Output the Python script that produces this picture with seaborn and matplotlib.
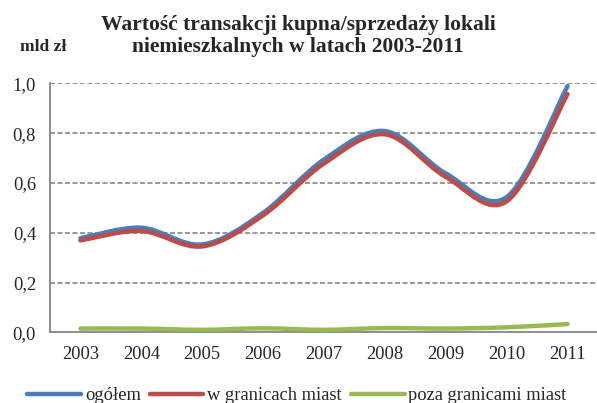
import numpy as np
import seaborn as sns
import matplotlib
matplotlib.use('Agg')
import matplotlib.pyplot as plt
from matplotlib.path import Path
from matplotlib.patches import PathPatch
from matplotlib.lines import Line2D

YEARS = ["2003", "2004", "2005", "2006", "2007", "2008", "2009", "2010", "2011"]
OGOLEM = [0.378, 0.420, 0.353, 0.480, 0.694, 0.808, 0.638, 0.543, 0.989]
W_GRANICACH = [0.369, 0.407, 0.345, 0.470, 0.678, 0.795, 0.624, 0.526, 0.957]
POZA_GRANICAMI = [0.015, 0.015, 0.010, 0.016, 0.010, 0.017, 0.015, 0.020, 0.033]
SERIES_NAMES = ["ogółem", "w granicach miast", "poza granicami miast"]
Y_TICKS = [0.0, 0.2, 0.4, 0.6, 0.8, 1.0]

COLORS = ["#4A7EBB", "#BE4B48", "#98B954"]
AXIS_GREY = "#868686"

sns.set_style("white")
plt.rcParams['font.family'] = ['Liberation Serif', 'DejaVu Serif']


def smooth_path(xs, ys):
    # Excel-style smoothed line: cubic bezier with catmull-rom control points
    pts = np.column_stack([xs, ys]).astype(float)
    n = len(pts)
    verts = [pts[0]]
    codes = [Path.MOVETO]
    for i in range(n - 1):
        p0 = pts[i - 1] if i > 0 else pts[i]
        p1 = pts[i]
        p2 = pts[i + 1]
        p3 = pts[i + 2] if i + 2 < n else pts[i + 1]
        c1 = p1 + (p2 - p0) / 6.0
        c2 = p2 - (p3 - p1) / 6.0
        verts += [c1, c2, p2]
        codes += [Path.CURVE4] * 3
    return Path(verts, codes)


fig = plt.figure(figsize=(5.97, 4.03), dpi=100)
ax = fig.add_axes([50 / 597, 1 - 332.3 / 403, 548 / 597, (332.3 - 83.3) / 403])

x = np.arange(len(YEARS))
for vals, color in zip([OGOLEM, W_GRANICACH, POZA_GRANICAMI], COLORS):
    patch = PathPatch(smooth_path(x, vals), facecolor="none", edgecolor=color,
                      lw=3.2, capstyle="round", joinstyle="round", zorder=3)
    ax.add_patch(patch)

ax.set_xlim(-0.5, len(YEARS) - 0.5)
ax.set_ylim(0, 1.0)
ax.set_yticks(Y_TICKS)
ax.set_yticklabels([f"{v:.1f}".replace(".", ",") for v in Y_TICKS])
ax.set_xticks(x)
ax.set_xticklabels(YEARS)
ax.set_xticks(np.arange(-0.5, len(YEARS) - 0.5, 1.0), minor=True)

ax.tick_params(axis="x", which="major", length=0, pad=10, labelsize=13.3)
ax.tick_params(axis="x", which="minor", length=5, color=AXIS_GREY, width=1.2)
ax.tick_params(axis="y", length=5, color=AXIS_GREY, width=1.2, pad=5, labelsize=13.3)

for y in Y_TICKS[1:]:
    ax.axhline(y, color=AXIS_GREY, lw=1.2, ls=(0, (3, 1.5)), zorder=1)

for side in ["top", "right"]:
    ax.spines[side].set_visible(False)
for side in ["left", "bottom"]:
    ax.spines[side].set_color(AXIS_GREY)
    ax.spines[side].set_linewidth(1.3)

fig.text(298 / 597, 1 - 36 / 403,
         "Wartość transakcji kupna/sprzedaży lokali\nniemieszkalnych w latach 2003-2011",
         ha="center", va="center", fontsize=15.5, fontweight="bold", linespacing=1.1)
fig.text(43 / 597, 1 - 47 / 403, "mld zł", ha="center", va="center",
         fontsize=12.5, fontweight="bold")

handles = [Line2D([], [], color=c, lw=3.2, solid_capstyle="round") for c in COLORS]
fig.legend(handles, SERIES_NAMES, loc="center", bbox_to_anchor=(297 / 597, 1 - 395.5 / 403),
           ncol=3, frameon=False, fontsize=13.3, handlelength=2.9, handletextpad=0.2,
           columnspacing=0.5, borderpad=0)

fig.savefig("out.png", dpi=100)
